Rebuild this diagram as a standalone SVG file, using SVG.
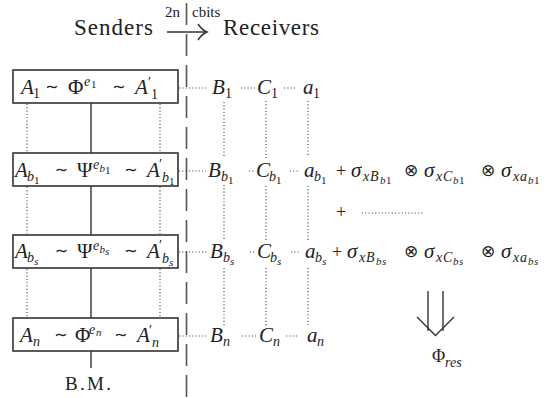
<svg xmlns="http://www.w3.org/2000/svg" width="549" height="398" viewBox="0 0 549 398" font-family="Liberation Serif, serif">
<style>
text { fill: #222; }
.i { font-style: italic; font-size: 21px; }
.u { font-size: 21px; }
.si { font-style: italic; font-size: 14px; }
.su { font-size: 14px; }
.ssi { font-style: italic; font-size: 11px; }
.ssu { font-size: 11px; }
.op { font-size: 16px; text-anchor: middle; }
.hd { font-size: 23px; }
.sm { font-size: 15px; }
.box { fill: #fff; stroke: #333; stroke-width: 1.6; }
.solid { stroke: #333; stroke-width: 1.4; fill: none; }
.dot { stroke: #444; stroke-width: 1.1; stroke-dasharray: 1.1 2.2; fill: none; }
.dash { stroke: #555; stroke-width: 1.6; stroke-dasharray: 22 9; fill: none; }
</style>

<g id="header">
  <text class="hd" x="74" y="35" textLength="79">Senders</text>
  <text class="hd" x="223" y="35" textLength="96">Receivers</text>
  <text class="sm" x="165" y="17">2n</text>
  <text class="sm" x="192" y="17">cbits</text>
  <line class="solid" x1="167" y1="32" x2="206" y2="32" stroke-width="1.6"/>
  <path class="solid" stroke-width="1.6" d="M198,24 Q202,30 207,32 Q202,34 198,40"/>
</g>

<g id="connectors">
  <line class="dash" x1="186.5" y1="3" x2="186.5" y2="398"/>
  <line class="solid" x1="91" y1="103" x2="91" y2="153"/>
  <line class="solid" x1="91" y1="186" x2="91" y2="235"/>
  <line class="solid" x1="91" y1="268" x2="91" y2="318"/>
  <line class="solid" x1="91" y1="351" x2="91" y2="368"/>
  <line class="dot" x1="27" y1="104" x2="27" y2="152"/>
  <line class="dot" x1="27" y1="187" x2="27" y2="234"/>
  <line class="dot" x1="27" y1="269" x2="27" y2="317"/>
  <line class="dot" x1="160" y1="104" x2="160" y2="152"/>
  <line class="dot" x1="160" y1="187" x2="160" y2="234"/>
  <line class="dot" x1="160" y1="269" x2="160" y2="317"/>
  <line class="dot" x1="224" y1="102" x2="224" y2="157"/>
  <line class="dot" x1="266" y1="101" x2="266" y2="158"/>
  <line class="dot" x1="308" y1="101" x2="308" y2="157"/>
  <line class="dot" x1="224" y1="185" x2="224" y2="240"/>
  <line class="dot" x1="266" y1="186" x2="266" y2="241"/>
  <line class="dot" x1="308" y1="186" x2="308" y2="240"/>
  <line class="dot" x1="224" y1="268" x2="224" y2="325"/>
  <line class="dot" x1="266" y1="268" x2="266" y2="326"/>
  <line class="dot" x1="308" y1="268" x2="308" y2="325"/>
  <line class="dot" x1="179" y1="88" x2="208" y2="88"/>
  <line class="dot" x1="241" y1="88" x2="255" y2="88"/>
  <line class="dot" x1="284" y1="88" x2="296" y2="88"/>
  <line class="dot" x1="179" y1="171" x2="206" y2="171"/>
  <line class="dot" x1="249" y1="171" x2="255" y2="171"/>
  <line class="dot" x1="290" y1="171" x2="299" y2="171"/>
  <line class="dot" x1="179" y1="252" x2="207" y2="252"/>
  <line class="dot" x1="250" y1="252" x2="256" y2="252"/>
  <line class="dot" x1="291" y1="252" x2="300" y2="252"/>
  <line class="dot" x1="179" y1="336" x2="207" y2="336"/>
  <line class="dot" x1="242" y1="336" x2="256" y2="336"/>
  <line class="dot" x1="286" y1="336" x2="298" y2="336"/>
  <line class="dot" x1="362" y1="213" x2="424" y2="213"/>
</g>

<g id="box1">
  <rect class="box" x="13" y="70" width="165" height="33"/>
  <text class="i" x="21" y="94">A</text><text class="su" x="33" y="98">1</text>
  <text class="op" x="52" y="92" font-family="DejaVu Sans">∼</text>
  <text class="u" x="68" y="94">Φ</text>
  <text class="si" x="84" y="86">e</text><text class="ssu" x="91" y="88">1</text>
  <text class="op" x="119" y="92" font-family="DejaVu Sans">∼</text>
  <text class="i" x="135" y="94">A</text><text class="su" x="148" y="87">′</text><text class="su" x="151" y="99">1</text>
</g>

<g id="box2">
  <rect class="box" x="13" y="153" width="165" height="33"/>
  <text class="i" x="15" y="177">A</text><text class="si" x="27" y="181">b</text><text class="ssu" x="34" y="184">1</text>
  <text class="op" x="61.5" y="175" font-family="DejaVu Sans">∼</text>
  <text class="u" x="77" y="177">Ψ</text>
  <text class="si" x="93" y="169">e</text><text class="ssi" x="99.5" y="172">b</text><text class="ssu" x="105" y="174">1</text>
  <text class="op" x="131" y="175" font-family="DejaVu Sans">∼</text>
  <text class="i" x="147" y="177">A</text><text class="su" x="159" y="169">′</text><text class="si" x="162" y="182">b</text><text class="ssu" x="169" y="185">1</text>
</g>

<g id="box3">
  <rect class="box" x="13" y="235" width="165" height="33"/>
  <text class="i" x="15" y="258">A</text><text class="si" x="27" y="262">b</text><text class="ssi" x="34" y="265">s</text>
  <text class="op" x="61.5" y="256" font-family="DejaVu Sans">∼</text>
  <text class="u" x="77" y="258">Ψ</text>
  <text class="si" x="93" y="250">e</text><text class="ssi" x="99.5" y="253">b</text><text class="ssi" x="105" y="255">s</text>
  <text class="op" x="131" y="256" font-family="DejaVu Sans">∼</text>
  <text class="i" x="147" y="258">A</text><text class="su" x="159" y="250">′</text><text class="si" x="162" y="263">b</text><text class="ssi" x="169" y="266">s</text>
</g>

<g id="box4">
  <rect class="box" x="13" y="318" width="165" height="33"/>
  <text class="i" x="20" y="342">A</text><text class="si" x="33" y="346">n</text>
  <text class="op" x="61" y="340" font-family="DejaVu Sans">∼</text>
  <text class="u" x="75" y="342">Φ</text>
  <text class="si" x="89" y="334">e</text><text class="ssi" x="96" y="336">n</text>
  <text class="op" x="121" y="340" font-family="DejaVu Sans">∼</text>
  <text class="i" x="137" y="342">A</text><text class="su" x="149" y="335">′</text><text class="si" x="152" y="347">n</text>
</g>

<g id="bm">
  <text class="u" x="65" y="390" style="font-size:19px" textLength="46">B.M.</text>
</g>

<g id="receivers-row1">
  <text class="i" x="212" y="94">B</text><text class="su" x="225" y="98">1</text>
  <text class="i" x="257" y="94">C</text><text class="su" x="271" y="98">1</text>
  <text class="i" x="303" y="94">a</text><text class="su" x="313" y="98">1</text>
</g>

<g id="receivers-row2">
  <text class="i" x="208" y="177">B</text><text class="si" x="221" y="181">b</text><text class="ssu" x="228" y="184">1</text>
  <text class="i" x="256" y="177">C</text><text class="si" x="269" y="181">b</text><text class="ssu" x="276" y="184">1</text>
  <text class="i" x="304" y="177">a</text><text class="si" x="314" y="181">b</text><text class="ssu" x="321" y="184">1</text>
  <text class="u" x="336" y="177" style="font-size:18px">+</text>
  <text class="i" x="351" y="177">σ</text><text class="si" x="363" y="181">x</text><text class="si" x="370" y="181">B</text><text class="ssi" x="380" y="184">b</text><text class="ssu" x="386" y="184">1</text>
  <text class="op" x="411" y="176" style="font-size:17px" font-family="DejaVu Sans">⊗</text>
  <text class="i" x="424" y="177">σ</text><text class="si" x="436" y="181">x</text><text class="si" x="443" y="181">C</text><text class="ssi" x="453" y="184">b</text><text class="ssu" x="459" y="184">1</text>
  <text class="op" x="488" y="176" style="font-size:17px" font-family="DejaVu Sans">⊗</text>
  <text class="i" x="501" y="177">σ</text><text class="si" x="513" y="181">x</text><text class="si" x="520" y="181">a</text><text class="ssi" x="528" y="184">b</text><text class="ssu" x="534" y="184">1</text>
</g>

<g id="middle-plus">
  <text class="u" x="336" y="218" style="font-size:18px">+</text>
</g>

<g id="receivers-row3">
  <text class="i" x="210" y="258">B</text><text class="si" x="223" y="262">b</text><text class="ssi" x="230" y="265">s</text>
  <text class="i" x="257" y="258">C</text><text class="si" x="270" y="262">b</text><text class="ssi" x="277" y="265">s</text>
  <text class="i" x="305" y="258">a</text><text class="si" x="315" y="262">b</text><text class="ssi" x="322" y="265">s</text>
  <text class="u" x="332" y="258" style="font-size:18px">+</text>
  <text class="i" x="347" y="258">σ</text><text class="si" x="359" y="262">x</text><text class="si" x="366" y="262">B</text><text class="ssi" x="376" y="265">b</text><text class="ssi" x="382" y="265">s</text>
  <text class="op" x="411" y="257" style="font-size:17px" font-family="DejaVu Sans">⊗</text>
  <text class="i" x="424" y="258">σ</text><text class="si" x="436" y="262">x</text><text class="si" x="443" y="262">C</text><text class="ssi" x="453" y="265">b</text><text class="ssi" x="459" y="265">s</text>
  <text class="op" x="488" y="257" style="font-size:17px" font-family="DejaVu Sans">⊗</text>
  <text class="i" x="501" y="258">σ</text><text class="si" x="513" y="262">x</text><text class="si" x="520" y="262">a</text><text class="ssi" x="528" y="265">b</text><text class="ssi" x="534" y="265">s</text>
</g>

<g id="receivers-row4">
  <text class="i" x="210" y="342">B</text><text class="si" x="223" y="346">n</text>
  <text class="i" x="259" y="342">C</text><text class="si" x="273" y="346">n</text>
  <text class="i" x="307" y="342">a</text><text class="si" x="317" y="346">n</text>
</g>

<g id="result">
  <line class="solid" x1="428" y1="291" x2="428" y2="331" stroke-width="2.4" stroke="#111"/>
  <line class="solid" x1="443" y1="291" x2="443" y2="331" stroke-width="2.4" stroke="#111"/>
  <path class="solid" stroke-width="2.4" stroke="#111" d="M417,317 L435.5,335.5 L454,317"/>
  <text class="u" x="432" y="362" style="font-size:18px">Φ</text>
  <text class="si" x="445" y="367">res</text>
</g>
</svg>
